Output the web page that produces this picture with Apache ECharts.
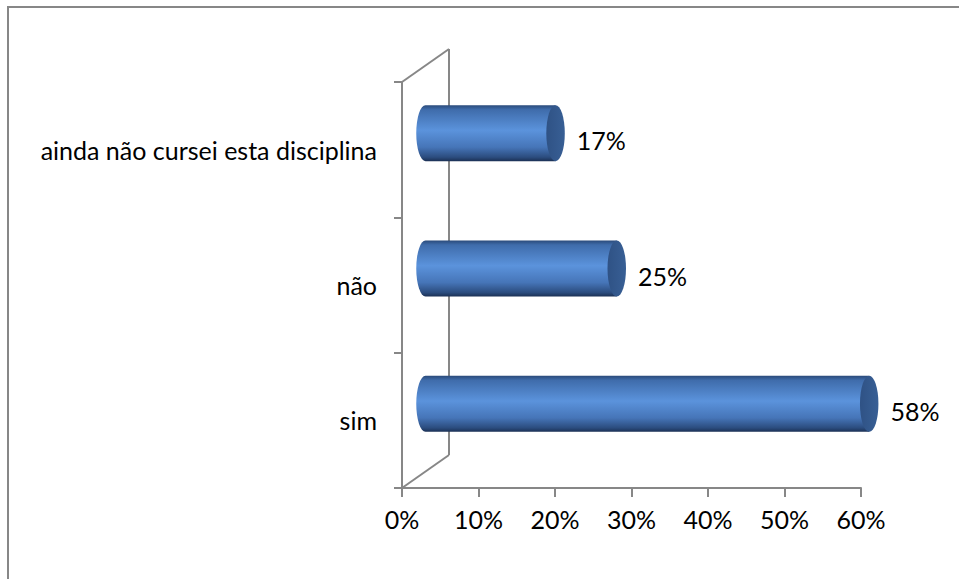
<!DOCTYPE html>
<html>
<head>
<meta charset="utf-8">
<script src="https://cdn.jsdelivr.net/npm/echarts@6/dist/echarts.min.js"></script>
<style>
  html, body { margin: 0; padding: 0; background: #ffffff; }
  #chart { width: 959px; height: 579px; }
</style>
</head>
<body>
<div id="chart"></div>
<script>
// Answer categories, bottom to top
const categories = ['sim', 'não', 'ainda não cursei esta disciplina'];
// Share of answers for each category
const shares = [0.58, 0.25, 0.17];
// Value axis range and step
const axisMin = 0;
const axisMax = 0.6;
const axisStep = 0.1;

const FONT = 'Lato';
const FONT_SIZE = 25;
const LINE = '#878787';
// 3D depth of the plot box (back wall offset, in px)
const DEPTH_X = 47;
const DEPTH_Y = -33;

const pct = v => Math.round(v * 100) + '%';

const chart = echarts.init(document.getElementById('chart'), null, { renderer: 'svg' });

const barData = shares.map((v, i) => [v, i]);

function renderWalls(params, api) {
  const c0 = api.coord([axisMin, 0]);
  const cN = api.coord([axisMin, categories.length - 1]);
  const band = api.size([0, 1])[1];
  const x0 = c0[0];
  const bottom = c0[1] + band / 2;
  const top = cN[1] - band / 2;
  const style = { stroke: LINE, lineWidth: 2, fill: null };
  return {
    type: 'group',
    children: [
      { type: 'line', shape: { x1: x0 + DEPTH_X, y1: top + DEPTH_Y, x2: x0 + DEPTH_X, y2: bottom + DEPTH_Y }, style },
      { type: 'line', shape: { x1: x0, y1: top, x2: x0 + DEPTH_X, y2: top + DEPTH_Y }, style },
      { type: 'line', shape: { x1: x0, y1: bottom, x2: x0 + DEPTH_X, y2: bottom + DEPTH_Y }, style }
    ]
  };
}

function renderCylinder(params, api) {
  const v = api.value(0);
  const c = api.value(1);
  const start = api.coord([axisMin, c]);
  const end = api.coord([v, c]);
  const band = api.size([0, 1])[1];
  const h = band * 0.414;
  const ry = h / 2;
  const rx = h * 0.165;
  const ox = DEPTH_X / 2, oy = DEPTH_Y / 2;
  const x0 = start[0] + ox;
  const x1 = end[0] + ox;
  const yc = end[1] + oy;
  const yT = yc - ry, yB = yc + ry;

  const bodyFill = new echarts.graphic.LinearGradient(0, 0, 0, 1, [
    { offset: 0, color: '#2a4a7a' },
    { offset: 0.08, color: '#3f6cab' },
    { offset: 0.45, color: '#5b93dc' },
    { offset: 0.75, color: '#4675b8' },
    { offset: 0.93, color: '#2b4c7e' },
    { offset: 1, color: '#1b3054' }
  ]);
  const capFill = new echarts.graphic.LinearGradient(0, 0, 1, 0, [
    { offset: 0, color: '#2f5285' },
    { offset: 1, color: '#385f95' }
  ]);

  const body = 'M' + x0 + ' ' + yT + ' L' + x1 + ' ' + yT + ' L' + x1 + ' ' + yB + ' L' + x0 + ' ' + yB +
    ' A' + rx + ' ' + ry + ' 0 0 1 ' + x0 + ' ' + yT + ' Z';
  const cap = 'M' + (x1 - rx) + ' ' + yc + ' A' + rx + ' ' + ry + ' 0 1 0 ' + (x1 + rx) + ' ' + yc +
    ' A' + rx + ' ' + ry + ' 0 1 0 ' + (x1 - rx) + ' ' + yc + ' Z';

  return {
    type: 'group',
    children: [
      { type: 'path', shape: { pathData: body }, style: { fill: bodyFill, stroke: null } },
      { type: 'path', shape: { pathData: cap }, style: { fill: capFill, stroke: null } },
      {
        type: 'text',
        style: {
          text: pct(v),
          x: x1 + rx + 12,
          y: yc + 7,
          verticalAlign: 'middle',
          align: 'left',
          fill: '#000000',
          font: FONT_SIZE + 'px ' + FONT
        }
      }
    ]
  };
}

chart.setOption({
  animation: false,
  backgroundColor: '#ffffff',
  grid: { left: 402, right: 98, top: 82, bottom: 91, containLabel: false },
  graphic: [
    {
      type: 'rect',
      shape: { x: 8, y: 7, width: 1200, height: 900 },
      style: { fill: null, stroke: LINE, lineWidth: 2 },
      silent: true
    }
  ],
  xAxis: {
    type: 'value',
    min: axisMin,
    max: axisMax,
    interval: axisStep,
    axisLine: { show: true, lineStyle: { color: LINE, width: 2 } },
    axisTick: { show: true, length: 9, lineStyle: { color: LINE, width: 2 } },
    splitLine: { show: false },
    axisLabel: {
      margin: 18,
      color: '#000000',
      fontFamily: FONT,
      fontSize: FONT_SIZE,
      formatter: v => pct(v)
    }
  },
  yAxis: {
    type: 'category',
    data: categories,
    boundaryGap: true,
    axisLine: { show: true, lineStyle: { color: LINE, width: 2 } },
    axisTick: { show: true, length: 8, lineStyle: { color: LINE, width: 2 } },
    splitLine: { show: false },
    axisLabel: {
      margin: 25,
      color: '#000000',
      fontFamily: FONT,
      fontSize: FONT_SIZE
    }
  },
  series: [
    {
      type: 'custom',
      renderItem: renderWalls,
      data: [[axisMin, 0]],
      encode: { x: 0, y: 1 },
      silent: true,
      z: 1
    },
    {
      type: 'custom',
      renderItem: renderCylinder,
      data: barData,
      encode: { x: 0, y: 1 },
      silent: true,
      z: 2
    }
  ]
});
</script>
</body>
</html>
